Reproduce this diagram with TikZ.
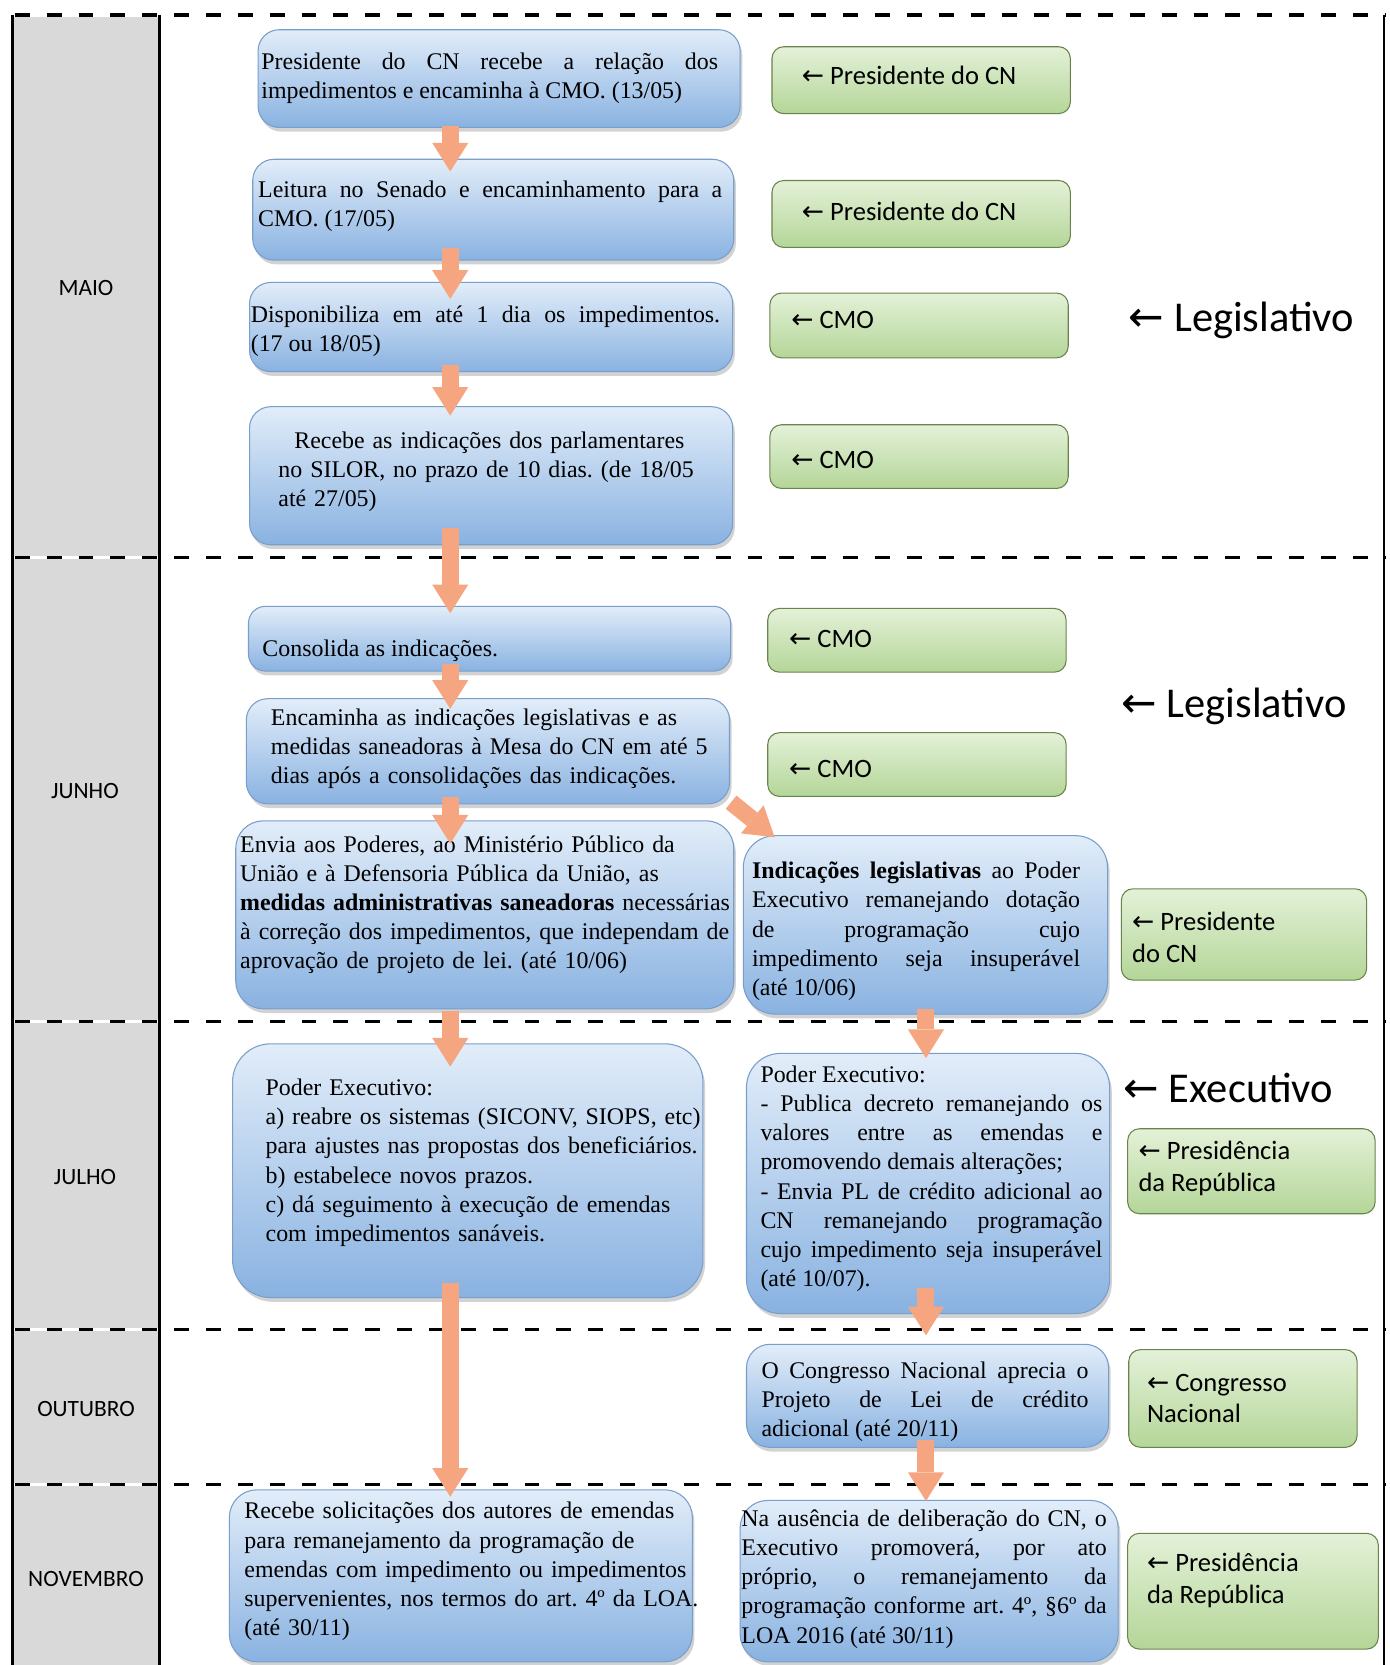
\documentclass[tikz,border=0pt]{standalone}
\usepackage{fontspec}
\setmainfont{Liberation Serif}
\newfontfamily\calfont{Carlito}
\newfontfamily\arrfont{DejaVu Sans}
\usetikzlibrary{arrows.meta,shadows}
\definecolor{greycol}{RGB}{217,217,217}
\definecolor{bluetop}{RGB}{226,237,249}
\definecolor{bluebot}{RGB}{137,178,225}
\definecolor{blueline}{RGB}{120,158,204}
\definecolor{greentop}{RGB}{228,241,216}
\definecolor{greenbot}{RGB}{180,214,152}
\definecolor{greenline}{RGB}{104,132,76}
\definecolor{salmon}{RGB}{245,166,128}
\frenchspacing
\begin{document}
\frenchspacing
\begin{tikzpicture}[x=1pt,y=-1pt,
  bbox/.style={rounded corners=20pt, draw=blueline, line width=1pt, top color=bluetop, bottom color=bluebot,
    drop shadow={opacity=0.35, shadow xshift=2pt, shadow yshift=-4pt}, inner sep=0pt},
  gbox/.style={rounded corners=11pt, draw=greenline, line width=1pt, top color=greentop, bottom color=greenbot, inner sep=0pt},
  btext/.style={anchor=west, inner sep=0pt, font=\fontsize{22.5}{27.5}\selectfont\frenchspacing},
  bjust/.style={btext, align=justify},
  bleft/.style={btext, align=left},
  gtext/.style={anchor=west, inner sep=0pt, align=left, font=\calfont\fontsize{25}{30}\selectfont},
  month/.style={inner sep=0pt, font=\calfont\fontsize{22}{26}\selectfont},
  bigl/.style={anchor=west, inner sep=0pt, font=\calfont\fontsize{40}{46}\selectfont},
  oarrow/.style={draw=salmon, line width=16pt, -{Triangle[length=27pt 0 0, width=34pt 0 0, line width=0pt 0 0]}},
  sepline/.style={line width=3.5pt, dash pattern=on 14pt off 16pt},
  frameline/.style={line width=2.5pt}
]
% background and bounding box
\fill[white] (0,0) rectangle (1309,1568);
\useasboundingbox (0,0) rectangle (1309,1568);
% month column
\fill[greycol] (12,14) rectangle (150,1568);
% separators
\foreach \yy in {14,525,962,1252,1398} {
  \draw[white, line width=3.5pt] (12,\yy) -- (1305,\yy);
  \draw[sepline] (14,\yy) -- (1305,\yy);
}
% vertical frame lines
\draw[frameline] (12,14) -- (12,1568);
\draw[frameline] (150,14) -- (150,1568);
\draw[line width=2pt] (1303,14) -- (1303,1568);

% column coordinates for arrows
\coordinate (colL) at (424,0);
\coordinate (colR) at (872,0);

% blue boxes
\node[bbox, minimum width=454pt, minimum height=92pt] (b1) at (470,74) {};
\node[bbox, minimum width=453pt, minimum height=95pt] (b2) at (464.5,197.5) {};
\node[bbox, minimum width=455pt, minimum height=84pt] (b3) at (462.5,308) {};
\node[bbox, minimum width=455pt, minimum height=130pt] (b4) at (462.5,448) {};
\node[bbox, minimum width=454pt, minimum height=61pt, rounded corners=16pt] (b5) at (461,601.5) {};
\node[bbox, minimum width=455pt, minimum height=99pt] (b6) at (459.5,707.5) {};
\node[bbox, minimum width=469pt, minimum height=177pt, rounded corners=26pt] (b7) at (456.5,861.5) {};
\node[bbox, minimum width=343pt, minimum height=168pt, rounded corners=30pt] (b8) at (871.5,871) {};
\node[bbox, minimum width=443pt, minimum height=239pt, rounded corners=36pt] (b9) at (440.5,1102.5) {};
\node[bbox, minimum width=342pt, minimum height=245pt, rounded corners=32pt] (b10) at (874,1114.5) {};
\node[bbox, minimum width=341pt, minimum height=97pt, rounded corners=22pt] (b11) at (873.5,1314.5) {};
\node[bbox, minimum width=436pt, minimum height=162pt, rounded corners=26pt] (b12) at (434,1484) {};
\node[bbox, minimum width=356pt, minimum height=152pt, rounded corners=26pt] (b13) at (875,1489) {};

% blue box texts
\node[bjust, text width=430pt] (t1) at (246,73.5) {Presidente do CN recebe a relação dos\linebreak impedimentos e encaminha à CMO. (13/05)};
\node[bjust, text width=437pt] (t2) at (243,194) {Leitura no Senado e encaminhamento para a\linebreak CMO. (17/05)};
\node[bjust, text width=442pt] (t3) at (236,312) {Disponibiliza em até 1 dia os impedimentos.\linebreak (17 ou 18/05)};
\node[bleft, text width=440pt] (t4) at (262,444) {\hspace*{15pt}Recebe as indicações dos parlamentares\\ no SILOR, no prazo de 10 dias. (de 18/05\\ até 27/05)};
\node[bleft] (t5) at (247,613) {Consolida as indicações.};
\node[bleft, text width=440pt] (t6) at (255,705) {Encaminha as indicações legislativas e as\\ medidas saneadoras à Mesa do CN em até 5\\ dias após a consolidações das indicações.};
\node[bleft, text width=480pt] (t7) at (226,852) {Envia aos Poderes, ao Ministério Público da\\ União e à Defensoria Pública da União, as\\ \textbf{medidas administrativas saneadoras} necessárias\\ à correção dos impedimentos, que independam de\\ aprovação de projeto de lei. (até 10/06)};
\node[bjust, text width=309pt] (t8) at (708,877) {\textbf{Indicações legislativas} ao Poder\linebreak Executivo remanejando dotação\linebreak de programação cujo\linebreak impedimento seja insuperável\linebreak (até 10/06)};
\node[bleft, text width=440pt] (t9) at (250,1095) {Poder Executivo:\\ a) reabre os sistemas (SICONV, SIOPS, etc)\\ para ajustes nas propostas dos beneficiários.\\ b) estabelece novos prazos.\\ c) dá seguimento à execução de emendas\\ com impedimentos sanáveis.};
\node[bjust, text width=322pt] (t10) at (716,1110) {Poder Executivo:\\ - Publica decreto remanejando os\linebreak valores entre as emendas e\linebreak promovendo demais alterações;\\ - Envia PL de crédito adicional ao\linebreak CN remanejando programação\linebreak cujo impedimento seja insuperável\linebreak (até 10/07).};
\node[bjust, text width=308pt] (t11) at (717,1320) {O Congresso Nacional aprecia o\linebreak Projeto de Lei de crédito\linebreak adicional (até 20/11)};
\node[bleft, text width=460pt] (t12) at (230,1480) {Recebe solicitações dos autores de emendas\\ para remanejamento da programação de\\ emendas com impedimento ou impedimentos\\ supervenientes, nos termos do art. 4º da LOA.\\ (até 30/11)};
\node[bjust, text width=344pt] (t13) at (698,1487) {Na ausência de deliberação do CN, o\linebreak Executivo promoverá, por ato\linebreak próprio, o remanejamento da\linebreak programação conforme art. 4º, §6º da\linebreak LOA 2016 (até 30/11)};

% green boxes
\node[gbox, minimum width=281pt, minimum height=63pt] (g1) at (867.5,75.5) {};
\node[gbox, minimum width=281pt, minimum height=63pt] (g2) at (867.5,201.5) {};
\node[gbox, minimum width=281pt, minimum height=61pt] (g3) at (865.5,306.5) {};
\node[gbox, minimum width=281pt, minimum height=60pt] (g4) at (865.5,430) {};
\node[gbox, minimum width=281pt, minimum height=60pt] (g5) at (863.5,603) {};
\node[gbox, minimum width=281pt, minimum height=60pt] (g6) at (863.5,720) {};
\node[gbox, minimum width=231pt, minimum height=86pt] (g7) at (1171.5,880) {};
\node[gbox, minimum width=233pt, minimum height=80pt] (g8) at (1178.5,1103) {};
\node[gbox, minimum width=215pt, minimum height=92pt] (g9) at (1170.5,1317) {};
\node[gbox, minimum width=236pt, minimum height=109pt] (g10) at (1180,1498.5) {};

% green texts
\node[gtext] (gt1) at (755,71) {{\arrfont ←} Presidente do CN};
\node[gtext] (gt2) at (755,199) {{\arrfont ←} Presidente do CN};
\node[gtext] (gt3) at (745,301) {{\arrfont ←} CMO};
\node[gtext] (gt4) at (745,433) {{\arrfont ←} CMO};
\node[gtext] (gt5) at (743,602) {{\arrfont ←} CMO};
\node[gtext] (gt6) at (743,724) {{\arrfont ←} CMO};
\node[gtext] (gt7) at (1066,883) {{\arrfont ←} Presidente\\ do CN};
\node[gtext] (gt8) at (1072,1100) {{\arrfont ←} Presidência\\ da República};
\node[gtext] (gt9) at (1080,1317) {{\arrfont ←} Congresso\\ Nacional};
\node[gtext] (gt10) at (1080,1488) {{\arrfont ←} Presidência\\ da República};

% big side labels
\node[bigl] (leg1) at (1063,302) {{\arrfont ←} Legislativo};
\node[bigl] (leg2) at (1056,665) {{\arrfont ←} Legislativo};
\node[bigl] (exe1) at (1058,1025) {{\arrfont ←} Executivo};

% month labels
\node[month] (m1) at (81,271) {MAIO};
\node[month] (m2) at (80,745) {JUNHO};
\node[month] (m3) at (80,1108) {JULHO};
\node[month] (m4) at (81,1327) {OUTUBRO};
\node[month] (m5) at (81,1487) {NOVEMBRO};

% arrows
\draw[oarrow] ([yshift=2pt]b1.south -| colL) -- ([yshift=-12pt]b2.north -| colL);
\draw[oarrow] ([yshift=12pt]b2.south -| colL) -- ([yshift=-16pt]b3.north -| colL);
\draw[oarrow] ([yshift=7pt]b3.south -| colL) -- ([yshift=-9pt]b4.north -| colL);
\draw[oarrow] ([yshift=16pt]b4.south -| colL) -- ([yshift=-7pt]b5.north -| colL);
\draw[oarrow] ([yshift=7pt]b5.south -| colL) -- ([yshift=-10pt]b6.north -| colL);
\draw[oarrow] ([yshift=7pt]b6.south -| colL) -- ([yshift=-22pt]b7.north -| colL);
\draw[oarrow] ([xshift=1pt,yshift=2pt]b6.south east) -- ([xshift=30pt,yshift=-2pt]b8.north west);
\draw[oarrow] ([yshift=-2pt]b7.south -| colL) -- ([yshift=-22pt]b9.north -| colL);
\draw[oarrow] ([yshift=5pt]b8.south -| colR) -- ([yshift=-5pt]b10.north -| colR);
\draw[oarrow] ([yshift=14pt]b9.south -| colL) -- ([yshift=-7pt]b12.north -| colL);
\draw[oarrow] ([yshift=25pt]b10.south -| colR) -- ([yshift=8pt]b11.north -| colR);
\draw[oarrow] ([yshift=7pt]b11.south -| colR) -- ([yshift=-1pt]b13.north -| colR);
\end{tikzpicture}
\end{document}
